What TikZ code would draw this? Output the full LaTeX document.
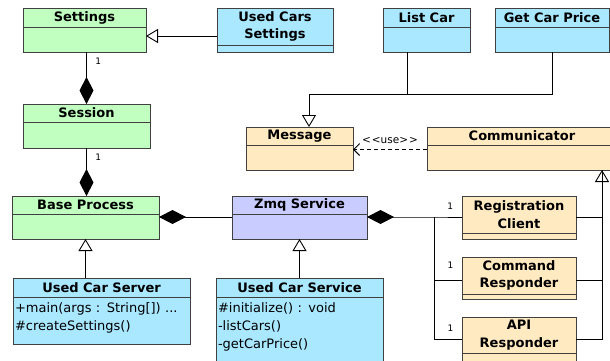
\documentclass[tikz,border=0pt]{standalone}
\usepackage{fontspec}
\setmainfont{DejaVu Sans}
\usepackage{xcolor}
\definecolor{umlGreen}{HTML}{C0FFC0}
\definecolor{umlBlue}{HTML}{AAE8FF}
\definecolor{umlTan}{HTML}{FFEAC2}
\definecolor{umlLilac}{HTML}{C8CCFF}
\definecolor{umlLine}{HTML}{404040}
\usetikzlibrary{arrows.meta, positioning}

\begin{document}
\begin{tikzpicture}[
		x=1pt, y=-1pt,
		head/.style={
			draw=umlLine,
			line width=1pt,
			outer sep=0pt,
			inner sep=1pt,
			anchor=north west,
			align=center,
			font=\bfseries\fontsize{13}{17.5}\selectfont
		},
		part/.style={
			draw=umlLine,
			line width=1pt,
			outer sep=0pt,
			inner sep=0pt
		},
		members/.style={
			inner xsep=2pt,
			inner ysep=0pt,
			align=left,
			text height=15pt,
			font=\fontsize{13}{18}\selectfont
		},
		inherit/.style={-{Triangle[open, length=12pt, width=14pt]}, line width=0.9pt},
		compose/.style={{Diamond[length=27pt, width=14pt]}-, line width=0.9pt},
		dep/.style={-{Straight Barb[length=6pt, width=12pt]}, dash pattern=on 4pt off 3pt, line width=0.9pt},
		mult/.style={font=\fontsize{9}{10}\selectfont}
		]
		
		\useasboundingbox (0,0) rectangle (610,360);
		\clip (0,0) rectangle (610,360);
		
		% top row
		\node[head, fill=umlGreen, minimum width=123pt, minimum height=19pt] (settings) at (23,8) {Settings};
		\node[part, fill=umlGreen, minimum width=123pt, minimum height=25pt, below=0pt of settings] (settings-b) {};
		\node[head, fill=umlBlue, minimum width=116pt, minimum height=37pt] (ucsettings) at (217,8) {Used Cars\\Settings};
		\node[part, fill=umlBlue, minimum width=116pt, minimum height=7pt, below=0pt of ucsettings] (ucsettings-b) {};
		\node[head, fill=umlBlue, minimum width=87pt, minimum height=19pt] (listcar) at (383,8) {List Car};
		\node[part, fill=umlBlue, minimum width=87pt, minimum height=25pt, below=0pt of listcar] (listcar-b) {};
		\node[head, fill=umlBlue, minimum width=114pt, minimum height=19pt] (getprice) at (495,8) {Get Car Price};
		\node[part, fill=umlBlue, minimum width=114pt, minimum height=25pt, below=0pt of getprice] (getprice-b) {};
		
		% middle
		\node[head, fill=umlGreen, minimum width=127pt, minimum height=18pt] (session) at (23,104) {Session};
		\node[part, fill=umlGreen, minimum width=127pt, minimum height=26pt, below=0pt of session] (session-b) {};
		\node[head, fill=umlTan, minimum width=107pt, minimum height=18pt] (message) at (246,127) {Message};
		\node[part, fill=umlTan, minimum width=107pt, minimum height=25pt, below=0pt of message] (message-b) {};
		\node[head, fill=umlTan, minimum width=190pt, minimum height=18pt] (comm) at (427,127) {Communicator};
		\node[part, fill=umlTan, minimum width=190pt, minimum height=25pt, below=0pt of comm] (comm-b) {};
		
		% processes
		\node[head, fill=umlGreen, minimum width=147pt, minimum height=18pt] (base) at (12,196) {Base Process};
		\node[part, fill=umlGreen, minimum width=147pt, minimum height=25pt, below=0pt of base] (base-b) {};
		\node[head, fill=umlLilac, minimum width=135pt, minimum height=18pt] (zmq) at (232,196) {Zmq Service};
		\node[part, fill=umlLilac, minimum width=135pt, minimum height=25pt, below=0pt of zmq] (zmq-b) {};
		
		% responders
		\node[head, fill=umlTan, minimum width=114pt, minimum height=37pt] (regclient) at (462,196) {Registration\\Client};
		\node[part, fill=umlTan, minimum width=114pt, minimum height=6pt, below=0pt of regclient] (regclient-b) {};
		\node[head, fill=umlTan, minimum width=114pt, minimum height=37pt] (cmdresp) at (462,257) {Command\\Responder};
		\node[part, fill=umlTan, minimum width=114pt, minimum height=5pt, below=0pt of cmdresp] (cmdresp-b) {};
		\node[head, fill=umlTan, minimum width=114pt, minimum height=36pt] (apiresp) at (462,317) {API\\Responder};
		\node[part, fill=umlTan, minimum width=114pt, minimum height=20pt, below=0pt of apiresp] (apiresp-b) {};
		
		% concrete classes
		\node[head, fill=umlBlue, minimum width=177pt, minimum height=19pt] (server) at (13,278) {Used Car Server};
		\node[part, members, fill=umlBlue, text width=173pt, text depth=32pt, below=0pt of server] (server-b) {+main(args : String[]) ...\\\#createSettings()};
		\node[head, fill=umlBlue, minimum width=167pt, minimum height=19pt] (service) at (216,278) {Used Car Service};
		\node[part, members, fill=umlBlue, text width=163pt, text depth=70pt, below=0pt of service] (service-b) {\#initialize() : void\\-listCars()\\-getCarPrice()};
		
		\coordinate (gen) at (309,94);
		\coordinate (fork) at (434,217);
		\coordinate (rbus) at (602,170);
		
		% generalisations
		\draw[inherit] (ucsettings.west |- settings-b.north) ++(0,9) -- ([yshift=-9pt]settings-b.north east);
		\draw[inherit] ([xshift=-19.5pt]listcar-b.south) |- (gen) -- (gen |- message.north);
		\draw (getprice-b.south) |- (gen);
		\draw[inherit] ([yshift=-4pt]apiresp.east) -| (rbus);
		\draw ([yshift=-2.5pt]regclient.east) -| (rbus);
		\draw ([yshift=-4.5pt]cmdresp.east) -| (rbus);
		\draw[inherit] (base-b.south |- server.north) -- (base-b.south);
		\draw[inherit] (service.north) -- (zmq-b.south);
		
		% compositions
		\draw[compose] (session.north) -- (settings-b.south -| session.north) node[mult, pos=0.83, right=5pt] {1};
		\draw[compose] (session-b.south |- base.north) -- (session-b.south) node[mult, pos=0.8, right=5pt] {1};
		\draw[compose] ([yshift=-3pt]base.south east) -- ([yshift=-3pt]zmq.south west);
		\draw[compose] ([yshift=-3pt]zmq.south east) -- (fork) -- (regclient.west |- fork) node[mult, anchor=south east, xshift=-5pt, yshift=4pt] {1};
		\draw (fork) |- ([yshift=-4.5pt]cmdresp.west) node[mult, anchor=south east, xshift=-5pt, yshift=8pt] {1};
		\draw (fork) |- ([yshift=-4pt]apiresp.west) node[mult, anchor=south east, xshift=-5pt, yshift=4pt] {1};
		
		% usage
		\draw[dep] ([yshift=8pt]comm-b.west) -- ([yshift=8pt]message-b.east) node[mult, font=\fontsize{10.5}{12}\selectfont, midway, above=2pt] {<\kern1pt<use>\kern1pt>};
		
	\end{tikzpicture}
\end{document}
